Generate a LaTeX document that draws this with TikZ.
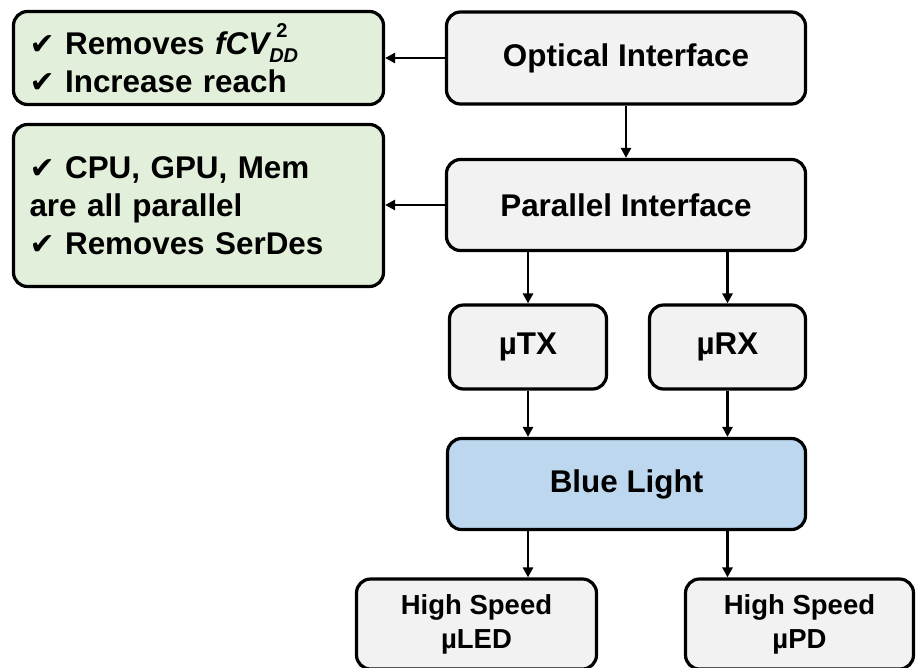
\documentclass[tikz,border=0pt]{standalone}
\usepackage{fontspec}
\setmainfont{Liberation Sans}
\newfontfamily\checkfont{DejaVu Sans}
\usepackage{xcolor}
\usetikzlibrary{arrows.meta,positioning}

\definecolor{panelgray}{HTML}{F2F2F2}
\definecolor{notegreen}{HTML}{E2EFDA}
\definecolor{lightblue}{HTML}{BDD7EE}
\newcommand{\tick}{{\checkfont\fontsize{30}{30}\selectfont ✔}}
\newcommand{\fcvdd}{{\itshape fCV}\rlap{\hspace{7pt}\raisebox{17pt}{\fontsize{20}{20}\selectfont 2}}\raisebox{-8pt}{\fontsize{20}{20}\selectfont\itshape DD}}

\begin{document}
\begin{tikzpicture}[
  x=1pt, y=-1pt,
  box/.style={rectangle, rounded corners=14pt, draw=black, line width=3.2pt, fill=panelgray, minimum width=359pt, minimum height=92pt, align=center, inner sep=0pt, font=\fontsize{31.4}{38}\selectfont\bfseries},
  note/.style={box, fill=notegreen, minimum width=370pt, text width=338pt, align=left},
  small/.style={box, minimum width=157pt, minimum height=84pt},
  outbox/.style={box, minimum height=90pt, font=\fontsize{27.5}{34}\selectfont\bfseries},
  arrow/.style={-{Triangle[length=10pt, width=10pt]}, line width=2.8pt}
]
\useasboundingbox (0,0) rectangle (920,667);

% main chain
\node[box] (optical) at (626,58) {Optical Interface};
\node[box, minimum height=91pt] (parallel) at (626,205) {Parallel Interface};
\node[small] (utx) at (528,347) {µTX};
\node[small, minimum width=156pt] (urx) at (727.5,347) {µRX};
\node[box, fill=lightblue, minimum width=358pt, minimum height=91pt] (blue) at (626.5,484) {Blue Light};
\node[outbox, minimum width=240pt] (uled) at (476.5,624) {High Speed\\µLED};
\node[outbox, minimum width=228pt] (upd) at (799.5,624) {High Speed\\µPD};

% gains
\node[note, minimum height=93pt] (gainsopt) at (198.5,58) {\tick\ Removes \fcvdd\\\tick\ Increase reach};
\node[note, minimum height=162pt] (gainspar) at (198.5,205.5) {\tick\ CPU, GPU, Mem\\are all parallel\\\tick\ Removes SerDes};

\draw[arrow] (optical) -- (gainsopt);
\draw[arrow] (optical) -- (parallel);
\draw[arrow] (parallel.west) -- (parallel.west -| gainspar.east);
\draw[arrow] (parallel.south -| utx.north) -- (utx.north);
\draw[arrow] (parallel.south -| urx.north) -- (urx.north);
\draw[arrow] (utx.south) -- (utx.south |- blue.north);
\draw[arrow] (urx.south) -- (urx.south |- blue.north);
\draw[arrow] (utx |- blue.south) -- (utx |- uled.north);
\draw[arrow] (urx |- blue.south) -- (urx |- upd.north);
\end{tikzpicture}
\end{document}
